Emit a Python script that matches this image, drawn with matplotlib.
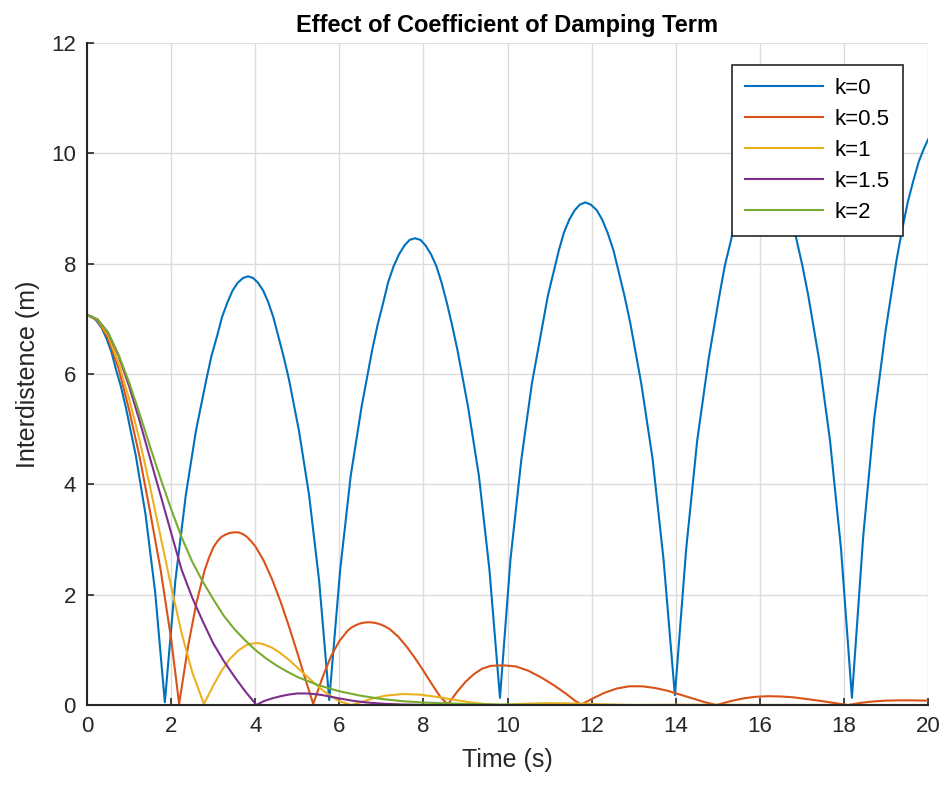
import matplotlib
matplotlib.use("Agg")
import matplotlib.pyplot as plt

# values
t_k0 = [0.00, 0.12, 0.23, 0.35, 0.46, 0.58, 0.69, 0.81, 0.93, 1.16, 1.39, 1.62, 1.85,
        2.10, 2.35, 2.59, 2.84, 2.96, 3.09, 3.21, 3.34, 3.46, 3.58, 3.71, 3.83,
        3.95, 4.07, 4.19, 4.31, 4.43, 4.55, 4.67, 4.80, 5.04, 5.28, 5.52, 5.76,
        6.02, 6.27, 6.53, 6.78, 6.91, 7.04, 7.16, 7.29, 7.42, 7.55, 7.67, 7.80,
        7.93, 8.05, 8.18, 8.31, 8.43, 8.56, 8.68, 8.81, 9.06, 9.32, 9.57, 9.82,
        10.07, 10.33, 10.58, 10.84, 10.96, 11.09, 11.22, 11.34, 11.47, 11.60, 11.72, 11.85,
        11.98, 12.12, 12.25, 12.38, 12.52, 12.65, 12.78, 12.92, 13.18, 13.45, 13.71, 13.98,
        14.25, 14.51, 14.78, 15.04, 15.17, 15.31, 15.44, 15.57, 15.70, 15.84, 15.97, 16.10,
        16.23, 16.36, 16.49, 16.62, 16.75, 16.88, 17.01, 17.15, 17.41, 17.67, 17.93, 18.19,
        18.46, 18.72, 18.99, 19.25, 19.38, 19.52, 19.65, 19.78, 19.90, 20.00]
y_k0 = [7.07, 7.04, 6.96, 6.83, 6.65, 6.40, 6.08, 5.76, 5.37, 4.52, 3.46, 2.05, 0.05,
        2.25, 3.81, 4.97, 5.91, 6.33, 6.68, 7.03, 7.30, 7.51, 7.65, 7.74, 7.77,
        7.74, 7.65, 7.51, 7.30, 7.03, 6.68, 6.33, 5.91, 4.97, 3.81, 2.25, 0.09,
        2.45, 4.15, 5.41, 6.43, 6.89, 7.28, 7.66, 7.95, 8.17, 8.33, 8.43, 8.46,
        8.43, 8.33, 8.17, 7.95, 7.66, 7.28, 6.89, 6.43, 5.41, 4.15, 2.45, 0.13,
        2.64, 4.46, 5.83, 6.92, 7.42, 7.83, 8.24, 8.56, 8.80, 8.97, 9.07, 9.11,
        9.07, 8.97, 8.80, 8.56, 8.24, 7.83, 7.42, 6.92, 5.83, 4.46, 2.64, 0.18,
        2.84, 4.79, 6.26, 7.43, 7.97, 8.41, 8.85, 9.19, 9.45, 9.63, 9.74, 9.78,
        9.74, 9.63, 9.45, 9.19, 8.85, 8.41, 7.97, 7.43, 6.26, 4.79, 2.84, 0.13,
        3.07, 5.19, 6.78, 8.06, 8.60, 9.12, 9.50, 9.85, 10.08, 10.25]

t_k05 = [0, 0.25, 0.5, 0.75, 1.0, 1.25, 1.5, 1.75, 2.0, 2.19,
         2.4, 2.6, 2.8, 2.9, 3.0, 3.1, 3.2, 3.3, 3.4, 3.5, 3.6, 3.7, 3.8, 3.9, 4.0,
         4.2, 4.4, 4.6, 4.8, 5.0, 5.2, 5.38,
         5.6, 5.8, 6.0, 6.2, 6.3, 6.4, 6.5, 6.6, 6.7, 6.8, 6.9, 7.0, 7.1, 7.2,
         7.4, 7.6, 7.8, 8.0, 8.2, 8.4, 8.58,
         8.8, 9.0, 9.2, 9.4, 9.6, 9.9, 10.2, 10.5, 10.8, 11.1, 11.4, 11.6, 11.76,
         12.0, 12.3, 12.6, 12.9, 13.2, 13.5, 13.8, 14.1, 14.4, 14.7, 14.97,
         15.3, 15.6, 15.9, 16.2, 16.5, 16.8, 17.1, 17.4, 17.7, 18.1,
         18.4, 18.7, 19.0, 19.3, 19.6, 20.0]
y_k05 = [7.07, 6.97, 6.65, 6.10, 5.35, 4.50, 3.50, 2.45, 1.20, 0.02,
         1.05, 1.85, 2.45, 2.67, 2.85, 2.97, 3.05, 3.09, 3.12, 3.13, 3.13, 3.10, 3.05, 2.97, 2.88,
         2.62, 2.28, 1.88, 1.43, 0.95, 0.45, 0.02,
         0.50, 0.88, 1.16, 1.35, 1.41, 1.45, 1.48, 1.495, 1.50, 1.495, 1.48, 1.455, 1.42, 1.375,
         1.24, 1.06, 0.85, 0.62, 0.38, 0.15, 0.01,
         0.24, 0.42, 0.56, 0.66, 0.71, 0.72, 0.70, 0.62, 0.50, 0.36, 0.20, 0.08, 0.01,
         0.11, 0.22, 0.30, 0.34, 0.34, 0.31, 0.26, 0.19, 0.12, 0.05, 0.00,
         0.07, 0.12, 0.15, 0.16, 0.155, 0.14, 0.11, 0.08, 0.045, 0.00,
         0.04, 0.065, 0.08, 0.085, 0.085, 0.08]

t_k1 = [0, 0.25, 0.5, 0.75, 1.0, 1.25, 1.5, 1.75, 2.0, 2.25, 2.5, 2.78,
        3.0, 3.2, 3.4, 3.6, 3.8, 3.9, 4.0, 4.1, 4.2, 4.4, 4.6, 4.8, 5.0, 5.2, 5.4, 5.6, 5.8, 6.0, 6.29,
        6.5, 6.8, 7.1, 7.5, 7.9, 8.3, 8.7, 9.1, 9.5, 9.8,
        10.3, 10.9, 11.5, 12.2, 13.0, 14.0, 16.0, 20.0]
y_k1 = [7.07, 6.98, 6.70, 6.20, 5.55, 4.80, 3.95, 3.05, 2.15, 1.30, 0.60, 0.02,
        0.35, 0.62, 0.84, 0.99, 1.09, 1.11, 1.12, 1.12, 1.10, 1.04, 0.94, 0.82, 0.68, 0.54, 0.40, 0.27, 0.16, 0.07, 0.00,
        0.05, 0.12, 0.17, 0.20, 0.19, 0.15, 0.10, 0.05, 0.015, 0.00,
        0.02, 0.035, 0.03, 0.015, 0.00, 0.005, 0.002, 0.0]

t_k15 = [0, 0.25, 0.5, 0.75, 1.0, 1.25, 1.5, 1.75, 2.0, 2.25, 2.5, 2.75, 3.0, 3.25, 3.5, 3.75, 4.03,
         4.2, 4.4, 4.6, 4.8, 5.0, 5.2, 5.4, 5.6, 5.8, 6.0, 6.3, 6.6, 7.0, 7.5, 8.0, 9.0, 20.0]
y_k15 = [7.07, 6.99, 6.75, 6.33, 5.78, 5.15, 4.47, 3.80, 3.12, 2.45, 1.95, 1.52, 1.12, 0.80, 0.52, 0.26, 0.00,
         0.07, 0.12, 0.16, 0.19, 0.21, 0.21, 0.20, 0.18, 0.15, 0.12, 0.08, 0.05, 0.025, 0.01, 0.003, 0.0, 0.0]

t_k2 = [0, 0.25, 0.5, 0.75, 1.0, 1.25, 1.5, 1.75, 2.0, 2.25, 2.5, 2.75, 3.0, 3.25, 3.5, 3.75,
        4.0, 4.25, 4.5, 4.75, 5.0, 5.5, 6.0, 6.5, 7.0, 7.5, 8.0, 9.0, 10.0, 11.0, 12.0, 20.0]
y_k2 = [7.07, 6.99, 6.75, 6.35, 5.85, 5.28, 4.68, 4.10, 3.55, 3.04, 2.60, 2.24, 1.92, 1.62, 1.38, 1.18,
        1.00, 0.85, 0.72, 0.61, 0.51, 0.36, 0.25, 0.17, 0.11, 0.07, 0.045, 0.02, 0.008, 0.003, 0.001, 0.0]

labels = ['k=0', 'k=0.5', 'k=1', 'k=1.5', 'k=2']
colors = ['#0072BD', '#D95319', '#EDB120', '#7E2F8E', '#77AC30']

plt.rcParams['font.family'] = ['Liberation Sans', 'DejaVu Sans']

fig = plt.figure(figsize=(9.46, 7.92), dpi=100)
ax = fig.add_axes([0.092, 0.1098, 0.889, 0.836])

series = [(t_k0, y_k0), (t_k05, y_k05), (t_k1, y_k1), (t_k15, y_k15), (t_k2, y_k2)]
for (t, y), c, lab in zip(series, colors, labels):
    ax.plot(t, y, color=c, lw=1.5, label=lab, solid_joinstyle='round')

ax.set_xlim(0, 20)
ax.set_ylim(0, 12)
ax.set_xticks(range(0, 21, 2))
ax.set_yticks(range(0, 13, 2))
ax.grid(True, color='#dcdcdc', lw=1)
ax.set_axisbelow(True)
for s in ['top', 'right']:
    ax.spines[s].set_visible(False)
for s in ['left', 'bottom']:
    ax.spines[s].set_color('#262626')
    ax.spines[s].set_linewidth(1.5)
ax.tick_params(direction='in', length=5, width=1.2, color='#262626',
               labelcolor='#262626', labelsize=16, pad=8)

ax.set_title('Effect of Coefficient of Damping Term', fontsize=17,
             fontweight='bold', pad=8)
ax.set_xlabel('Time (s)', fontsize=18, color='#262626', labelpad=8)
ax.set_ylabel('Interdistence (m)', fontsize=18, color='#262626', labelpad=8)

leg = ax.legend(loc='upper right', bbox_to_anchor=(0.970, 0.967),
                borderaxespad=0, fontsize=16, handlelength=3.5,
                labelspacing=0.45, fancybox=False, framealpha=1,
                edgecolor='#262626', borderpad=0.6, handletextpad=0.5)
leg.get_frame().set_linewidth(1.2)

fig.savefig('out.png', dpi=100)
